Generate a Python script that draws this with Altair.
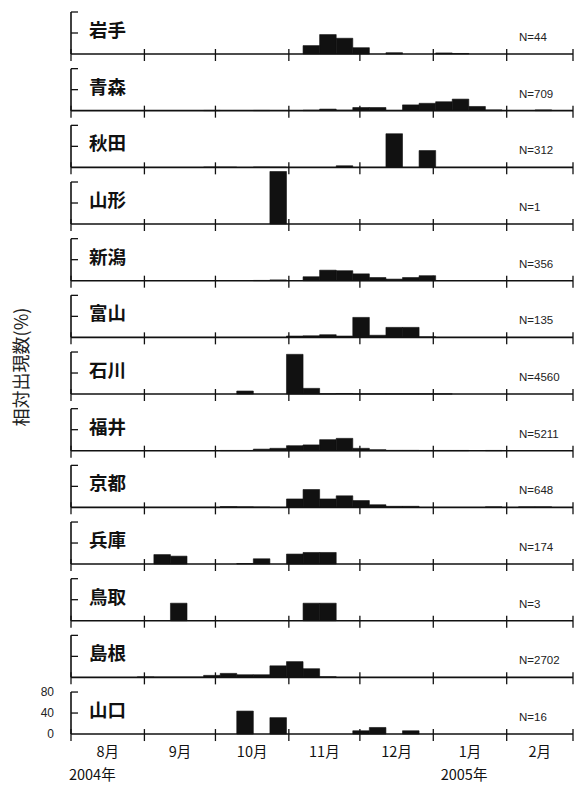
import altair as alt
import pandas as pd

prefs = ["岩手", "青森", "秋田", "山形", "新潟", "富山", "石川", "福井", "京都", "兵庫", "鳥取", "島根", "山口"]
n_values = [44, 709, 312, 1, 356, 135, 4560, 5211, 648, 174, 3, 2702, 16]

# weekly relative frequencies (%), 30 weeks starting 2004-08-01
iwate = [0] * 14 + [16, 37, 30, 12, 0, 2.5, 0, 0, 2, 1] + [0] * 6
aomori = [0, 0, 0, 0, 0, 0, 0, 0, 0.5, 0, 0, 0.5, 0, 0, 1, 3, 1, 6, 6, 0.5, 11, 14, 17, 22, 8, 1.5, 0, 0, 1.5, 0]
akita = [0] * 8 + [0.5, 0.3, 0, 0.5, 0.3, 0, 0, 0, 3, 0, 0, 64, 0, 32] + [0] * 8
yamagata = [0] * 12 + [100] + [0] * 17
niigata = [0] * 11 + [0.5, 1.5, 0, 7.5, 20, 19, 13, 6, 3, 6, 9.5] + [0] * 8
toyama = [0] * 13 + [2.5, 3, 5, 2.5, 38, 4, 19, 19, 1] + [0] * 8
ishikawa = [0] * 10 + [5.7, 0, 0, 75.6, 10.8, 0.5, 1, 0.3, 0.3, 0.3, 0.3, 0.3, 0.3] + [0] * 7
fukui = [0, 0, 0, 0, 0, 0, 0, 0, 0, 0.5, 0.5, 3, 4.5, 9.5, 11, 21, 23.5, 4.5, 2, 0.7, 0.7, 0.5, 0.5, 0.5, 0, 0.5, 0, 0, 0, 0]
kyoto = [0, 0, 0, 0, 0, 0, 0, 0, 0, 1.5, 1, 0.5, 0, 16, 34, 16, 22, 13, 5, 2, 2, 0, 0, 0, 0, 1, 0, 1, 1, 0]
hyogo = [0, 0, 0, 0, 0, 18, 15, 0, 0, 0, 1, 10, 0, 19, 22, 22] + [0] * 14
tottori = [0] * 6 + [33.3] + [0] * 7 + [33.3, 33.3] + [0] * 14
shimane = [0, 0, 0, 0, 1, 0.5, 0.5, 0.5, 3.8, 7.6, 5, 5, 22, 30, 16.5, 1.3] + [0] * 14
yamaguchi = [0] * 10 + [43.75, 0, 31.25, 0, 0, 0, 0, 6.25, 12.5, 0, 6.25] + [0] * 9

series = [iwate, aomori, akita, yamagata, niigata, toyama, ishikawa, fukui, kyoto, hyogo, tottori, shimane, yamaguchi]

month_labels = ["8月", "9月", "10月", "11月", "12月", "1月", "2月"]
month_days = [31, 30, 31, 30, 31, 31, 28]
year_labels = ["2004年", "2005年"]
year_days = [9, 166]
y_tick_values = [40, 80]
y_label_values = [0, 40, 80]
y_title = "相対出現数(%)"
bin_days = 7

W = 502
H = 42
TOTAL_DAYS = sum(month_days)

bounds = [0]
for d in month_days:
    bounds.append(bounds[-1] + d)
mids = [(bounds[i] + bounds[i + 1]) / 2 for i in range(len(month_days))]

FONT_JP = "Noto Sans CJK JP"
FONT_LAT = "Liberation Sans"
INK = "#111111"

xscale = alt.Scale(domain=[0, TOTAL_DAYS], nice=False, zero=False)
yscale = alt.Scale(domain=[0, 80], nice=False)

bound_df = pd.DataFrame({"d": bounds})
ytick_df = pd.DataFrame({"v": y_tick_values})
ylab_df = pd.DataFrame({"v": y_label_values, "t": [str(v) for v in y_label_values]})
zero_df = pd.DataFrame({"v": [0]})

panels = []
for i, (name, n, vals) in enumerate(zip(prefs, n_values, series)):
    last = i == len(prefs) - 1
    df = pd.DataFrame({
        "start": [k * bin_days for k in range(len(vals))],
        "end": [(k + 1) * bin_days for k in range(len(vals))],
        "value": vals,
    })
    df = df[df["value"] > 0]

    bars = alt.Chart(df).mark_rect(color=INK, stroke=INK, strokeWidth=0.6).encode(
        x=alt.X("start:Q", scale=xscale, axis=None),
        x2="end:Q",
        y=alt.Y("value:Q", scale=yscale, axis=None),
        y2=alt.datum(0),
    )
    baseline = alt.Chart(zero_df).mark_rule(color=INK, strokeWidth=1.6).encode(
        y=alt.Y("v:Q", scale=yscale, axis=None),
        x=alt.value(0),
        x2=alt.value(W),
    )
    yline = alt.Chart(zero_df).mark_rule(color=INK, strokeWidth=1.6).encode(
        x=alt.value(0),
        y=alt.value(0),
        y2=alt.value(H),
    )
    mticks = alt.Chart(bound_df).mark_rule(color=INK, strokeWidth=1.3).encode(
        x=alt.X("d:Q", scale=xscale, axis=None),
        y=alt.value(H - 5),
        y2=alt.value(H + 7),
    )
    yticks = alt.Chart(ytick_df).mark_rule(color=INK, strokeWidth=1.3).encode(
        y=alt.Y("v:Q", scale=yscale, axis=None),
        x=alt.value(0),
        x2=alt.value(7),
    )
    label_df = pd.DataFrame({"name": [name], "n": [f"N={n}"]})
    name_txt = alt.Chart(label_df).mark_text(
        align="left", baseline="middle", font=FONT_JP, fontSize=18.5, fontWeight="bold", color=INK
    ).encode(x=alt.value(18), y=alt.value(H - 23), text="name:N")
    n_txt = alt.Chart(label_df).mark_text(
        align="left", baseline="middle", font=FONT_LAT, fontSize=11.5, color="#222222"
    ).encode(x=alt.value(448), y=alt.value(H - 16), text="n:N")

    layers = [bars, baseline, yline, mticks, yticks, name_txt, n_txt]

    if i == 6:
        tdf = pd.DataFrame({"t": [y_title]})
        layers.append(alt.Chart(tdf).mark_text(
            angle=270, align="center", baseline="middle", font=FONT_JP, fontSize=18, color="#222222"
        ).encode(x=alt.value(-48), y=alt.value(H / 2 - 6), text="t:N"))

    if last:
        layers.append(alt.Chart(ylab_df).mark_text(
            align="right", baseline="middle", font=FONT_LAT, fontSize=12, color="#222222"
        ).encode(x=alt.value(-17), y=alt.Y("v:Q", scale=yscale, axis=None), text="t:N"))
        mdf = pd.DataFrame({"mid": mids, "lab": month_labels})
        layers.append(alt.Chart(mdf).mark_text(
            align="center", baseline="middle", font=FONT_JP, fontSize=14.5, color=INK
        ).encode(x=alt.X("mid:Q", scale=xscale, axis=None), y=alt.value(H + 19), text="lab:N"))
        ydf = pd.DataFrame({"d": year_days, "lab": year_labels})
        layers.append(alt.Chart(ydf).mark_text(
            align="center", baseline="middle", font=FONT_JP, fontSize=14.5, color=INK
        ).encode(x=alt.X("d:Q", scale=xscale, axis=None), y=alt.value(H + 42), text="lab:N"))

    panel = alt.layer(*layers).properties(
        width=W, height=H, view=alt.ViewBackground(stroke="transparent")
    )
    panels.append(panel)

chart = alt.vconcat(*panels, spacing=14.67, bounds="flush").properties(
    padding={"left": 5, "top": 2, "right": 0, "bottom": 0},
    background="white",
).configure_view(stroke="transparent")

chart.save("out.html", embed_options={"renderer": "svg", "actions": False})
